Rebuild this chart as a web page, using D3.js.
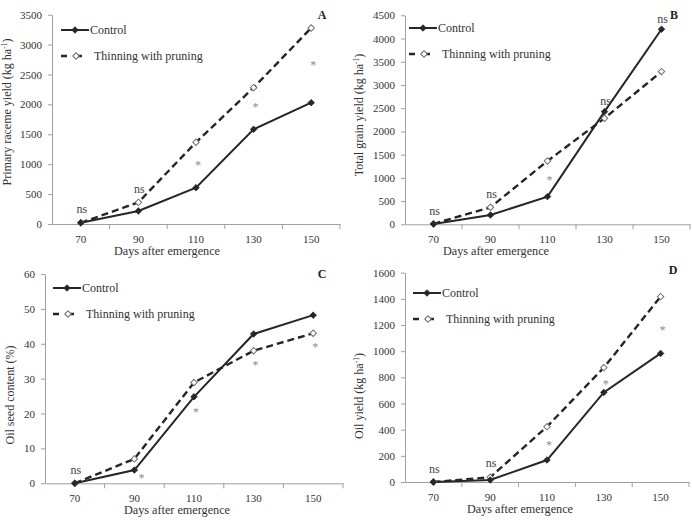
<!DOCTYPE html>
<html lang="en">
<head>
<meta charset="UTF-8">
<title>Yield over days after emergence</title>
<script src="https://d3js.org/d3.v7.min.js"></script>
<style>
    body{ margin:0; background:#fff; }
    svg{ display:block; }
    svg text{ font-family:"Liberation Serif","Times New Roman",serif !important; fill:#333; }
    .tick text{ font-size:11px; }
</style>
</head>
<body>
<script>

    // categories
    const days = ["70", "90", "110", "130", "150"]

    // A - primary raceme yield (kg/ha)
    const controlA  = [20, 217, 607, 1583, 2029]
    const thinningA = [20, 362, 1366, 2280, 3278]
    const sigA      = ["ns", "ns", "*", "*", "*"]
    const sigYA     = [250, 585, 1020, 1990, 2690]

    // B - total grain yield (kg/ha)
    const controlB  = [7, 200, 596, 2426, 4199]
    const thinningB = [10, 366, 1364, 2283, 3288]
    const sigB      = ["ns", "ns", "*", "ns", "ns"]
    const sigYB     = [286, 631, 1003, 2640, 4414]

    // C - oil seed content (%)
    const controlC  = [0, 3.8, 24.8, 42.8, 48.2]
    const thinningC = [0, 7.0, 28.9, 38.0, 43.0]
    const sigC      = ["ns", "*", "*", "*", "*"]
    const sigYC     = [3.8, 2.1, 21, 34.4, 39.6]

    // D - oil yield (kg/ha)
    const controlD  = [0, 15, 168, 685, 983]
    const thinningD = [0, 36, 423, 874, 1417]
    const sigD      = ["ns", "ns", "*", "*", "*"]
    const sigYD     = [99, 138, 300, 767, 1180]

    // y tick labels
    const ticksA = [0, 500, 1000, 1500, 2000, 2500, 3000, 3500]
    const ticksB = [0, 500, 1000, 1500, 2000, 2500, 3000, 3500, 4000, 4500]
    const ticksC = [0, 10, 20, 30, 40, 50, 60]
    const ticksD = [0, 200, 400, 600, 800, 1000, 1200, 1400, 1600]

    const seriesNames = ["Control", "Thinning with pruning"]

    const width = 692
    const height = 520
    let svg = d3.select("body").append("svg")
                .attr("width", width).attr("height", height)
                .attr("font-family", "Liberation Serif")

    const ink = "#262626"
    const axisGray = "#a0a0a0"

    // layout of the four panels
    const panels = [
        {letter:"A", control:controlA, thinning:thinningA, sig:sigA, sigY:sigYA, ticks:ticksA,
         left:52, right:340, top:14.7, bottom:224, titleX:167, ylabX:11, ylabY:112,
         ylab:["Primary raceme yield (kg ha", "-1", ")"], legX:61, legY:30, letterX:322, letterY:19},
        {letter:"B", control:controlB, thinning:thinningB, sig:sigB, sigY:sigYB, ticks:ticksB,
         left:405, right:690, top:15.3, bottom:224.3, titleX:496, ylabX:363, ylabY:115,
         ylab:["Total grain yield (kg ha", "-1", ")"], legX:409, legY:28, letterX:674, letterY:19},
        {letter:"C", control:controlC, thinning:thinningC, sig:sigC, sigY:sigYC, ticks:ticksC,
         left:45, right:343, top:274, bottom:483.3, titleX:177, ylabX:14, ylabY:395,
         ylab:["Oil seed content (%)"], legX:53, legY:288, letterX:322, letterY:278},
        {letter:"D", control:controlD, thinning:thinningD, sig:sigD, sigY:sigYD, ticks:ticksD,
         left:405, right:689, top:272.7, bottom:482, titleX:520, ylabX:363, ylabY:396,
         ylab:["Oil yield (kg ha", "-1", ")"], legX:413, legY:293, letterX:673, letterY:274}
    ]

    // small diamond: a square turned 45 degrees
    const marker = d3.symbol().type(d3.symbolSquare).size(21)

    panels.forEach(p => {
        let g = svg.append("g")

        let x = d3.scaleBand().domain(days).range([p.left, p.right])
        let y = d3.scaleLinear().domain([0, d3.max(p.ticks)]).range([p.bottom, p.top])
        const cx = d => x(d) + x.bandwidth()/2

        // y axis
        let ya = g.append("g").attr("transform", `translate(${p.left},0)`)
                  .call(d3.axisLeft(y).tickValues(p.ticks).tickFormat(d3.format("d"))
                          .tickSize(4).tickPadding(6).tickSizeOuter(0))
        ya.attr("font-family", null).attr("font-size", null)
        ya.selectAll("path, line").attr("stroke", axisGray)

        // x axis: labels in band centers, ticks on band edges
        let xa = g.append("g").attr("transform", `translate(0,${p.bottom})`)
                  .call(d3.axisBottom(x).tickSize(0).tickPadding(11))
        xa.attr("font-family", null).attr("font-size", null)
        xa.select("path").attr("stroke", axisGray)
        xa.selectAll(".edge")
          .data(days.map(d => x(d)).concat([p.right]).slice(1))
          .enter().append("line")
          .attr("x1", d => d).attr("x2", d => d)
          .attr("y1", 0).attr("y2", 5)
          .attr("stroke", axisGray)

        // axis titles
        g.append("text").attr("x", p.titleX).attr("y", p.bottom + 30.5)
         .attr("text-anchor", "middle").attr("font-size", 12.2)
         .text("Days after emergence")

        let yl = g.append("text")
                  .attr("transform", `translate(${p.ylabX},${p.ylabY}) rotate(-90)`)
                  .attr("text-anchor", "middle").attr("font-size", 12)
        yl.append("tspan").text(p.ylab[0])
        if (p.ylab.length > 1) {
            yl.append("tspan").attr("font-size", 7.5).attr("dy", -4).text(p.ylab[1])
            yl.append("tspan").attr("dy", 4).text(p.ylab[2])
        }

        // lines
        let line = d3.line().x((v, i) => cx(days[i])).y(v => y(v))

        g.append("path").datum(p.thinning).attr("d", line)
         .attr("fill", "none").attr("stroke", ink).attr("stroke-width", 2.4)
         .attr("stroke-dasharray", "7,4")
        g.append("path").datum(p.control).attr("d", line)
         .attr("fill", "none").attr("stroke", ink).attr("stroke-width", 2)

        g.selectAll(".thin").data(p.thinning).enter().append("path")
         .attr("d", marker)
         .attr("transform", (v, i) => `translate(${cx(days[i])},${y(v)}) rotate(45)`)
         .attr("fill", "#fff").attr("stroke", "#707070").attr("stroke-width", 1)
        g.selectAll(".ctrl").data(p.control).enter().append("path")
         .attr("d", marker)
         .attr("transform", (v, i) => `translate(${cx(days[i])},${y(v)}) rotate(45)`)
         .attr("fill", ink).attr("stroke", ink).attr("stroke-width", 0.8)

        // significance labels
        g.selectAll(".sig").data(p.sig).enter().append("text")
         .attr("x", (s, i) => cx(days[i]) + (s == "*" ? (p.letter == "C" && i == 1 ? 7 : 2) : 1))
         .attr("y", (s, i) => y(p.sigY[i]) + (s == "*" ? 6 : 3.5))
         .attr("text-anchor", "middle")
         .attr("font-size", s => s == "*" ? 12 : 12)
         .style("fill", s => s == "*" ? "#8c8c8c" : "#444")
         .text(s => s)

        // panel letter
        g.append("text").attr("x", p.letterX).attr("y", p.letterY)
         .attr("text-anchor", "middle").attr("font-size", 12).attr("font-weight", "bold")
         .style("fill", "#222").text(p.letter)

        // legend
        let lg = g.append("g").attr("transform", `translate(${p.legX},${p.legY})`)
        lg.append("line").attr("x1", 0).attr("x2", 28).attr("y1", 0).attr("y2", 0)
          .attr("stroke", ink).attr("stroke-width", 2)
        lg.append("path").attr("d", marker).attr("transform", "translate(14,0) rotate(45)")
          .attr("fill", ink).attr("stroke", ink).attr("stroke-width", 0.8)
        lg.append("text").attr("x", 29).attr("y", 4).attr("font-size", 12).text(seriesNames[0])

        lg.append("line").attr("x1", 0).attr("x2", 21).attr("y1", 26).attr("y2", 26)
          .attr("stroke", ink).attr("stroke-width", 2.4).attr("stroke-dasharray", "6,6,9")
        lg.append("path").attr("d", marker).attr("transform", "translate(15,26) rotate(45)")
          .attr("fill", "#fff").attr("stroke", "#707070")
        lg.append("text").attr("x", 33).attr("y", 30).attr("font-size", 12).text(seriesNames[1])
    })

</script>
</body>
</html>
